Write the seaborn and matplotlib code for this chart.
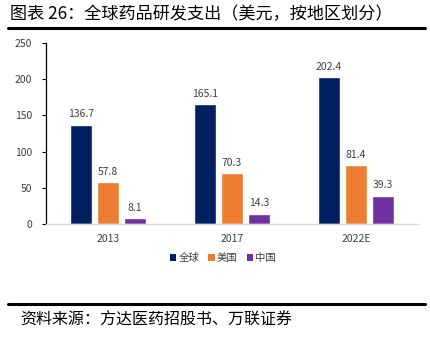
import matplotlib
matplotlib.use("Agg")
import matplotlib.pyplot as plt
import seaborn as sns
import pandas as pd
from matplotlib.patches import Patch
from matplotlib.lines import Line2D

years = ["2013", "2017", "2022E"]
series = ["全球", "美国", "中国"]
global_vals = [136.7, 165.1, 202.4]
us_vals = [57.8, 70.3, 81.4]
china_vals = [8.1, 14.3, 39.3]
colors = ["#002060", "#ED7D31", "#7030A0"]
yticks = [0, 50, 100, 150, 200, 250]

rows = []
for name, vals in zip(series, [global_vals, us_vals, china_vals]):
    for y, v in zip(years, vals):
        rows.append({"year": y, "region": name, "value": v})
df = pd.DataFrame(rows)

sns.set_theme(style="white")
plt.rcParams['font.family'] = ['Noto Sans CJK SC', 'DejaVu Sans']

fig = plt.figure(figsize=(4.31, 3.38), dpi=100)
ax = fig.add_axes([46/431, 1 - 224/338, (418 - 46)/431, (224 - 43)/338])

sns.barplot(data=df, x="year", y="value", hue="region", hue_order=series,
            palette=colors, width=0.65, gap=0.18, ax=ax, legend=False,
            saturation=1)

for cont in ax.containers:
    ax.bar_label(cont, fmt="%.1f", padding=4, fontsize=7.5, color="#404040")

ax.set_ylim(0, 250)
ax.set_yticks(yticks)
ax.set_yticklabels([str(t) for t in yticks], fontsize=7.5, color="#404040")
ax.tick_params(axis="y", length=3, width=0.8, color="#000000", pad=7, left=True)
ax.tick_params(axis="x", length=0, labelsize=7.5, labelcolor="#404040", pad=7)
ax.set_xlabel("")
ax.set_ylabel("")
ax.set_xlim(-0.5, 2.5)
for s in ["top", "right"]:
    ax.spines[s].set_visible(False)
ax.spines["left"].set_color("#000000")
ax.spines["left"].set_linewidth(0.9)
ax.spines["bottom"].set_color("#d9d9d9")
ax.spines["bottom"].set_linewidth(1.0)

handles = [Patch(facecolor=c, edgecolor="none") for c in colors]
fig.legend(handles, series, loc="center", bbox_to_anchor=(223/431, 1 - 258/338),
           ncol=3, frameon=False, fontsize=7.5, handlelength=0.6, handleheight=0.6,
           handletextpad=0.2, columnspacing=0.9, labelcolor="#404040")

fig.text(10/431, 1 - 14/338, "图表 26：全球药品研发支出（美元，按地区划分）",
         fontsize=12.3, ha="left", va="center", color="#000000")
fig.add_artist(Line2D([8/431, 425/431], [1 - 28/338, 1 - 28/338], color="black", linewidth=2.2))
fig.add_artist(Line2D([8/431, 425/431], [1 - 304/338, 1 - 304/338], color="black", linewidth=2.2))
fig.text(20/431, 1 - 320/338, "资料来源：方达医药招股书、万联证券", fontsize=11.5,
         ha="left", va="center", style="italic", color="#000000")

fig.savefig("out.png", dpi=100)
